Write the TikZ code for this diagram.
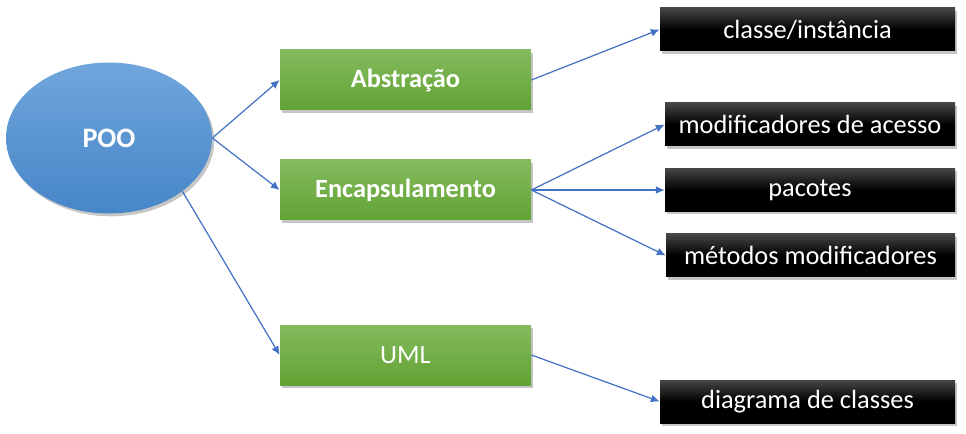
\documentclass[tikz,border=0pt]{standalone}
\usepackage{fontspec}
\setmainfont{Carlito}
\usetikzlibrary{shapes.geometric, shadows, arrows.meta}
\definecolor{pooblueA}{RGB}{112, 166, 220}
\definecolor{pooblueB}{RGB}{70, 134, 200}
\definecolor{greenA}{RGB}{132, 187, 94}
\definecolor{greenB}{RGB}{98, 163, 52}
\definecolor{darkA}{RGB}{70, 70, 70}
\definecolor{arrowblue}{RGB}{68, 114, 196}

\begin{document}
\begin{tikzpicture}[
    font=\fontsize{15}{18}\selectfont,
    sombra/.style={drop shadow={shadow xshift=1.3pt, shadow yshift=-1.6pt, opacity=0.45}},
    tema/.style={rectangle, sombra, top color=greenA, bottom color=greenB, text=white, minimum width=5.02cm, minimum height=1.2cm, inner sep=0pt},
    item/.style={rectangle, sombra, top color=darkA, bottom color=black, middle color=black, text=white, minimum height=0.86cm, inner sep=0pt},
    seta/.style={draw=arrowblue, line width=0.7pt, -{Latex[length=5pt, width=4.5pt]}}
]
    \useasboundingbox (0,0) rectangle (19.32,8.66);

    \node[ellipse, sombra, top color=pooblueA, bottom color=pooblueB, text=white, font=\fontsize{16}{18}\selectfont\bfseries, minimum width=4.12cm, minimum height=3.02cm, inner sep=0pt] (POO) at (2.18,5.90) {POO};

    \node[tema, font=\fontsize{15}{18}\selectfont\bfseries] (A) at (8.11,7.06) {Abstração};
    \node[tema, font=\fontsize{15}{18}\selectfont\bfseries] (E) at (8.11,4.86) {Encapsulamento};
    \node[tema] (U) at (8.11,1.56) {UML};

    \node[item, minimum width=5.9cm] (C) at (16.15,8.07) {classe/instância};
    \node[item, minimum width=5.8cm] (M) at (16.20,6.17) {modificadores de acesso};
    \node[item, minimum width=5.8cm] (P) at (16.20,4.86) {pacotes};
    \node[item, minimum width=5.78cm] (MM) at (16.21,3.55) {métodos modificadores};
    \node[item, minimum width=5.9cm] (D) at (16.15,0.63) {diagrama de classes};

    \draw[seta] (POO.east) -- (A.west);
    \draw[seta] (POO.east) -- (E.west);
    \draw[seta] (POO.-36) -- (U.west);
    \draw[seta] (A.east) -- (C.west);
    \draw[seta] (E.east) -- (M.west);
    \draw[seta] (E.east) -- (P.west);
    \draw[seta] (E.east) -- (MM.west);
    \draw[seta] (U.east) -- (D.west);
\end{tikzpicture}
\end{document}
